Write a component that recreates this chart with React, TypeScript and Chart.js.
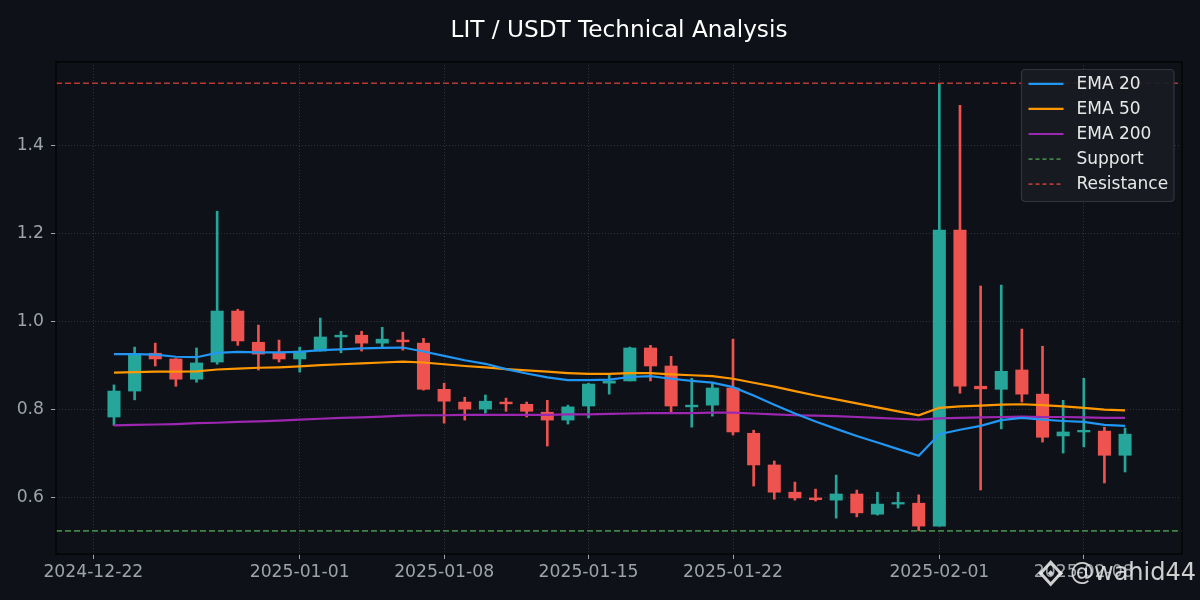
import React, { useEffect, useRef } from "react";
import { Chart, registerables } from "chart.js";

Chart.register(...registerables);

// ---------- data ----------
const dates = [
  "2024-12-23", "2024-12-24", "2024-12-25", "2024-12-26", "2024-12-27", "2024-12-28", "2024-12-29",
  "2024-12-30", "2024-12-31", "2025-01-01", "2025-01-02", "2025-01-03", "2025-01-04", "2025-01-05",
  "2025-01-06", "2025-01-07", "2025-01-08", "2025-01-09", "2025-01-10", "2025-01-11", "2025-01-12",
  "2025-01-13", "2025-01-14", "2025-01-15", "2025-01-16", "2025-01-17", "2025-01-18", "2025-01-19",
  "2025-01-20", "2025-01-21", "2025-01-22", "2025-01-23", "2025-01-24", "2025-01-25", "2025-01-26",
  "2025-01-27", "2025-01-28", "2025-01-29", "2025-01-30", "2025-01-31", "2025-02-01", "2025-02-02",
  "2025-02-03", "2025-02-04", "2025-02-05", "2025-02-06", "2025-02-07", "2025-02-08", "2025-02-09",
  "2025-02-10",
];

const opens = [
  0.782, 0.841, 0.927, 0.914, 0.868, 0.907, 1.023, 0.952, 0.927, 0.914,
  0.932, 0.964, 0.968, 0.950, 0.957, 0.950, 0.845, 0.816, 0.800, 0.816,
  0.811, 0.793, 0.775, 0.807, 0.859, 0.864, 0.939, 0.898, 0.805, 0.809,
  0.848, 0.745, 0.673, 0.611, 0.598, 0.593, 0.607, 0.561, 0.584, 0.586,
  0.534, 1.207, 0.852, 0.845, 0.889, 0.834, 0.739, 0.748, 0.750, 0.695,
];
const highs = [
  0.855, 0.941, 0.950, 0.915, 0.939, 1.250, 1.027, 0.991, 0.957, 0.941,
  1.007, 0.977, 0.977, 0.986, 0.975, 0.961, 0.859, 0.827, 0.832, 0.825,
  0.816, 0.820, 0.809, 0.859, 0.877, 0.941, 0.945, 0.920, 0.870, 0.861,
  0.959, 0.752, 0.682, 0.634, 0.618, 0.650, 0.616, 0.611, 0.611, 0.605,
  1.541, 1.491, 1.080, 1.082, 0.982, 0.943, 0.820, 0.870, 0.759, 0.757,
];
const lows = [
  0.763, 0.821, 0.898, 0.852, 0.861, 0.902, 0.945, 0.889, 0.907, 0.884,
  0.932, 0.928, 0.932, 0.941, 0.934, 0.843, 0.768, 0.775, 0.791, 0.795,
  0.782, 0.716, 0.766, 0.780, 0.834, 0.864, 0.864, 0.793, 0.759, 0.784,
  0.741, 0.625, 0.595, 0.593, 0.591, 0.552, 0.555, 0.559, 0.575, 0.523,
  0.534, 0.836, 0.616, 0.755, 0.816, 0.725, 0.700, 0.714, 0.632, 0.657,
];
const closes = [
  0.841, 0.926, 0.914, 0.868, 0.905, 1.023, 0.955, 0.925, 0.914, 0.932,
  0.964, 0.968, 0.950, 0.959, 0.953, 0.845, 0.818, 0.800, 0.818, 0.812,
  0.795, 0.775, 0.805, 0.857, 0.864, 0.939, 0.898, 0.807, 0.809, 0.848,
  0.748, 0.673, 0.611, 0.598, 0.594, 0.607, 0.564, 0.584, 0.586, 0.534,
  1.207, 0.852, 0.846, 0.886, 0.834, 0.736, 0.748, 0.750, 0.695, 0.743,
];

const ema20 = [
  0.925, 0.925, 0.924, 0.919, 0.918, 0.928, 0.930, 0.929, 0.929, 0.930,
  0.934, 0.936, 0.938, 0.939, 0.940, 0.931, 0.921, 0.911, 0.903, 0.891,
  0.881, 0.872, 0.866, 0.866, 0.867, 0.873, 0.875, 0.869, 0.864, 0.860,
  0.850, 0.831, 0.810, 0.790, 0.772, 0.755, 0.739, 0.724, 0.709, 0.694,
  0.743, 0.753, 0.762, 0.775, 0.780, 0.776, 0.773, 0.771, 0.764, 0.762,
];
const ema50 = [
  0.883, 0.884, 0.885, 0.885, 0.886, 0.890, 0.892, 0.894, 0.895, 0.897,
  0.900, 0.902, 0.904, 0.906, 0.908, 0.906, 0.902, 0.898, 0.895, 0.891,
  0.888, 0.885, 0.882, 0.880, 0.880, 0.882, 0.882, 0.879, 0.877, 0.875,
  0.869, 0.860, 0.851, 0.841, 0.831, 0.822, 0.813, 0.804, 0.795, 0.786,
  0.803, 0.806, 0.808, 0.810, 0.811, 0.809, 0.806, 0.803, 0.799, 0.797,
];
const ema200 = [
  0.763, 0.764, 0.765, 0.766, 0.768, 0.769, 0.771, 0.772, 0.774, 0.776,
  0.778, 0.780, 0.781, 0.783, 0.785, 0.786, 0.786, 0.787, 0.787, 0.787,
  0.787, 0.787, 0.788, 0.788, 0.789, 0.790, 0.791, 0.791, 0.791, 0.792,
  0.792, 0.790, 0.788, 0.786, 0.785, 0.784, 0.782, 0.780, 0.778, 0.776,
  0.779, 0.780, 0.781, 0.782, 0.783, 0.782, 0.782, 0.781, 0.780, 0.780,
];

const supportLevel = 0.523;
const resistanceLevel = 1.541;

const xTickLabels = ["2024-12-22", "2025-01-01", "2025-01-08", "2025-01-15", "2025-01-22", "2025-02-01", "2025-02-08"];
const yTickValues = [0.6, 0.8, 1.0, 1.2, 1.4];

const titleText = "LIT / USDT Technical Analysis";
const watermarkText = "@wahid44";
const legendLabels = ["EMA 20", "EMA 50", "EMA 200", "Support", "Resistance"];

// ---------- styling ----------
const BG = "#0e1117";
const GREEN = "#26a69a";
const RED = "#ef5350";
const BLUE = "#2196f3";
const ORANGE = "#ff9800";
const PURPLE = "#9c27b0";
const SUPPORT_C = "#40844a";
const RESIST_C = "#b63a30";
const TICK_C = "#9ea3aa";
const FONT = '"DejaVu Sans", sans-serif';

const ORIGIN = Date.UTC(2024, 11, 22);
const DAY = 86400000;
const dayIndex = (s: string) => (Date.parse(s + "T00:00:00Z") - ORIGIN) / DAY;

const X_MIN = -1.81;
const X_MAX = 52.76;
const Y_MIN = 0.4705;
const Y_MAX = 1.5893;

const legendStyles = [
  { color: BLUE, dash: [] as number[], width: 2.2 },
  { color: ORANGE, dash: [] as number[], width: 2.2 },
  { color: PURPLE, dash: [] as number[], width: 2.2 },
  { color: SUPPORT_C, dash: [4, 3], width: 1.7 },
  { color: RESIST_C, dash: [4, 3], width: 1.7 },
];

const decorPlugin = {
  id: "decor",
  beforeDraw(chart: any) {
    const { ctx, width, height } = chart;
    ctx.save();
    ctx.fillStyle = BG;
    ctx.fillRect(0, 0, width, height);
    ctx.restore();
  },
  afterDraw(chart: any) {
    const { ctx, chartArea } = chart;
    const { left, right, top, bottom } = chartArea;
    ctx.save();
    // frame
    ctx.strokeStyle = "#030405";
    ctx.lineWidth = 1.5;
    ctx.strokeRect(left, top, right - left, bottom - top);

    // title
    ctx.fillStyle = "#ffffff";
    ctx.font = `23.2px ${FONT}`;
    ctx.textAlign = "center";
    ctx.textBaseline = "alphabetic";
    ctx.fillText(titleText, (left + right) / 2, 36.5);

    // legend
    const bx = right - 160.5, by = top + 7.5, bw = 152.5, bh = 132;
    ctx.beginPath();
    const r = 4;
    ctx.moveTo(bx + r, by);
    ctx.lineTo(bx + bw - r, by);
    ctx.quadraticCurveTo(bx + bw, by, bx + bw, by + r);
    ctx.lineTo(bx + bw, by + bh - r);
    ctx.quadraticCurveTo(bx + bw, by + bh, bx + bw - r, by + bh);
    ctx.lineTo(bx + r, by + bh);
    ctx.quadraticCurveTo(bx, by + bh, bx, by + bh - r);
    ctx.lineTo(bx, by + r);
    ctx.quadraticCurveTo(bx, by, bx + r, by);
    ctx.closePath();
    ctx.fillStyle = "rgba(24,28,35,0.92)";
    ctx.fill();
    ctx.strokeStyle = "#30353d";
    ctx.lineWidth = 1.2;
    ctx.stroke();

    ctx.font = `17px ${FONT}`;
    ctx.textAlign = "left";
    ctx.textBaseline = "middle";
    legendLabels.forEach((lab, i) => {
      const cy = by + 14.3 + i * 25.1;
      const st = legendStyles[i];
      ctx.beginPath();
      ctx.setLineDash(st.dash);
      ctx.strokeStyle = st.color;
      ctx.lineWidth = st.width;
      ctx.moveTo(bx + 7, cy);
      ctx.lineTo(bx + 42, cy);
      ctx.stroke();
      ctx.setLineDash([]);
      ctx.fillStyle = "#e8e8e8";
      ctx.fillText(lab, bx + 55, cy + 0.5);
    });

    // watermark logo
    const cx = 1050.7, cyl = 573.3;
    ctx.fillStyle = "rgba(228,228,228,0.9)";
    ctx.strokeStyle = "rgba(228,228,228,0.9)";
    ctx.lineWidth = 3;
    ctx.beginPath();
    ctx.moveTo(cx, cyl - 11);
    ctx.lineTo(cx + 10, cyl);
    ctx.lineTo(cx, cyl + 11);
    ctx.lineTo(cx - 10, cyl);
    ctx.closePath();
    ctx.stroke();
    const diamond = (x: number, y: number, s: number) => {
      ctx.beginPath();
      ctx.moveTo(x, y - s);
      ctx.lineTo(x + s, y);
      ctx.lineTo(x, y + s);
      ctx.lineTo(x - s, y);
      ctx.closePath();
      ctx.fill();
    };
    diamond(cx, cyl, 3);
    diamond(cx - 10, cyl, 2.5);
    diamond(cx + 10, cyl, 2.5);

    ctx.font = `24px ${FONT}`;
    ctx.textAlign = "left";
    ctx.textBaseline = "middle";
    ctx.fillStyle = "rgba(228,228,228,0.9)";
    ctx.fillText(watermarkText, 1070, 574);
    ctx.restore();
  },
};

export default function App() {
  const canvasRef = useRef<HTMLCanvasElement | null>(null);

  useEffect(() => {
    const canvas = canvasRef.current;
    if (!canvas) return;
    const xs = dates.map(dayIndex);
    const candleColors = closes.map((c, i) => (c >= opens[i] ? GREEN : RED));

    const lineDs = (label: string, values: number[], color: string) => ({
      type: "line" as const,
      label,
      data: xs.map((x, i) => ({ x, y: values[i] })),
      borderColor: color,
      backgroundColor: color,
      borderWidth: 2.2,
      pointRadius: 0,
      tension: 0,
      order: 0,
    });
    const levelDs = (label: string, level: number, color: string) => ({
      type: "line" as const,
      label,
      data: [
        { x: X_MIN, y: level },
        { x: X_MAX, y: level },
      ],
      borderColor: color,
      borderWidth: 1.7,
      borderDash: [6, 3],
      pointRadius: 0,
      order: 0,
    });

    const chart = new Chart(canvas, {
      type: "bar",
      data: {
        datasets: [
          lineDs("EMA 20", ema20, BLUE),
          lineDs("EMA 50", ema50, ORANGE),
          lineDs("EMA 200", ema200, PURPLE),
          levelDs("Support", supportLevel, SUPPORT_C),
          levelDs("Resistance", resistanceLevel, RESIST_C),
          {
            type: "bar" as const,
            label: "Body",
            data: xs.map((x, i) => ({ x, y: [opens[i], closes[i]] })) as any,
            backgroundColor: candleColors,
            borderWidth: 0,
            barThickness: 12.4,
            minBarLength: 1.6,
            grouped: false,
            order: 1,
          },
          {
            type: "bar" as const,
            label: "Wick",
            data: xs.map((x, i) => ({ x, y: [lows[i], highs[i]] })) as any,
            backgroundColor: candleColors,
            borderWidth: 0,
            barThickness: 2,
            grouped: false,
            order: 2,
          },
        ] as any,
      },
      options: {
        animation: false,
        responsive: false,
        maintainAspectRatio: false,
        devicePixelRatio: 1,
        layout: { padding: { top: 62, right: 18, left: 0, bottom: 0 } },
        plugins: {
          legend: { display: false },
          title: { display: false },
          tooltip: { enabled: false },
        },
        scales: {
          x: {
            type: "linear",
            min: X_MIN,
            max: X_MAX,
            offset: false,
            afterBuildTicks: (scale: any) => {
              scale.ticks = xTickLabels.map((l) => ({ value: dayIndex(l) }));
            },
            afterFit: (scale: any) => {
              scale.height = 46;
            },
            ticks: {
              autoSkip: false,
              maxRotation: 0,
              minRotation: 0,
              padding: 3,
              color: TICK_C,
              font: { family: FONT, size: 17.2 },
              callback: (_v: any, i: number) => xTickLabels[i],
            },
            grid: {
              offset: false,
              color: "#2e323a",
              lineWidth: 1,
              drawTicks: true,
              tickLength: 5,
              tickColor: TICK_C,
              tickWidth: 1,
              tickBorderDash: [],
            },
            border: { display: false, dash: [1, 2] },
          },
          y: {
            type: "linear",
            min: Y_MIN,
            max: Y_MAX,
            beginAtZero: false,
            afterBuildTicks: (scale: any) => {
              scale.ticks = yTickValues.map((v) => ({ value: v }));
            },
            afterFit: (scale: any) => {
              scale.width = 56;
            },
            ticks: {
              padding: 7,
              color: TICK_C,
              font: { family: FONT, size: 17.2 },
              callback: (v: any) => Number(v).toFixed(1),
            },
            grid: {
              color: "#2e323a",
              lineWidth: 1,
              drawTicks: true,
              tickLength: 5,
              tickColor: TICK_C,
              tickWidth: 1,
              tickBorderDash: [],
            },
            border: { display: false, dash: [1, 2] },
          },
        },
      } as any,
      plugins: [decorPlugin],
    });

    return () => chart.destroy();
  }, []);

  return (
    <div style={{ position: "fixed", left: 0, top: 0, width: 1200, height: 600, background: BG }}>
      <canvas ref={canvasRef} width={1200} height={600} style={{ display: "block", width: 1200, height: 600 }} />
    </div>
  );
}
